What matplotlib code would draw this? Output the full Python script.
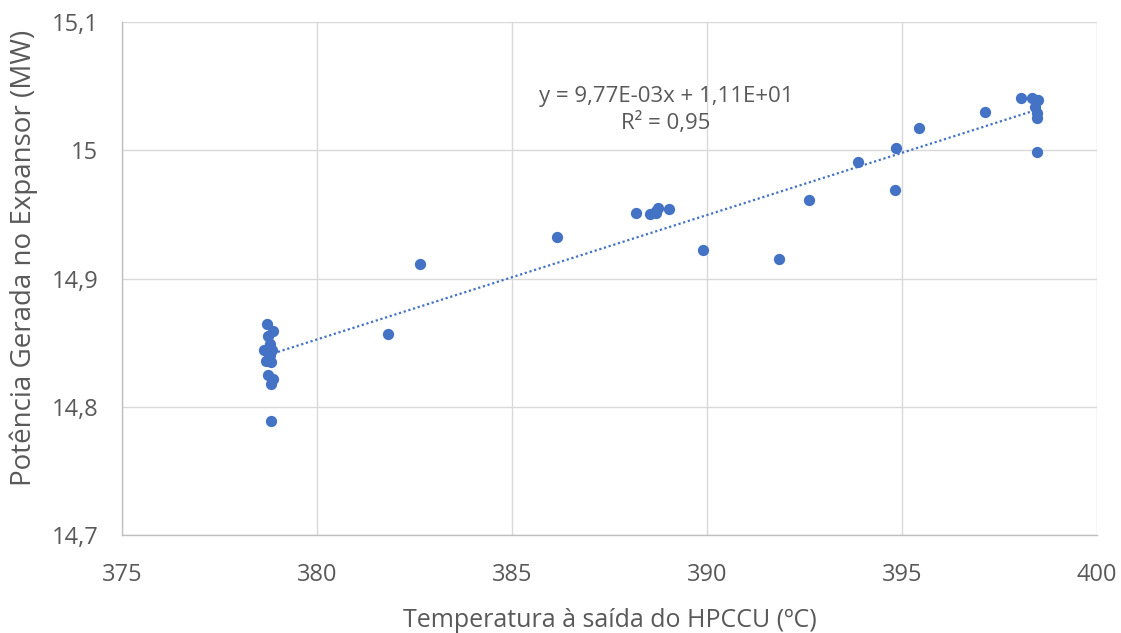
import numpy as np
import matplotlib
matplotlib.use("Agg")
import matplotlib.pyplot as plt
from matplotlib.ticker import FuncFormatter

plt.rcParams['font.family'] = ['Open Sans', 'DejaVu Sans']

# HPCCU outlet temperature (ºC) and expander power (MW)
temperatura = [378.72, 378.87, 378.74, 378.79, 378.64, 378.85, 378.69, 378.82,
               378.74, 378.87, 378.82, 378.82, 378.78, 378.80,
               381.82, 382.64, 386.15, 388.18, 388.55, 388.68, 388.74, 389.02,
               388.70, 389.90, 391.85, 392.62, 393.87, 394.82, 394.85, 395.44,
               397.13, 398.05, 398.33, 398.49, 398.41, 398.46, 398.46, 398.46]
potencia = [14.8645, 14.859, 14.855, 14.849, 14.844, 14.844, 14.836, 14.835,
            14.825, 14.822, 14.818, 14.789, 14.846, 14.840,
            14.857, 14.911, 14.932, 14.951, 14.950, 14.951, 14.955, 14.954,
            14.953, 14.922, 14.915, 14.961, 14.991, 14.969, 15.002, 15.017,
            15.030, 15.041, 15.041, 15.039, 15.034, 15.029, 15.025, 14.999]

x_ticks = [375, 380, 385, 390, 395, 400]
y_ticks = [14.7, 14.8, 14.9, 15.0, 15.1]

texto = '#595959'
grade = '#D9D9D9'
azul = '#4472C4'

fig = plt.figure(figsize=(11.21, 6.33), dpi=100)
ax = fig.add_axes([0.1088, 0.1548, 0.8698, 0.8104])

x = np.array(temperatura)
y = np.array(potencia)
ax.scatter(x, y, s=66, color=azul, zorder=3, linewidths=0)

# Linear trendline
a, b = np.polyfit(x, y, 1)
xl = np.array([x.min(), x.max()])
ax.plot(xl, a * xl + b, linestyle=(0, (1, 1.2)), color=azul, linewidth=1.6, zorder=2)

ax.text(388.95, 15.0314, 'y = 9,77E-03x + 1,11E+01\nR² = 0,95', ha='center', va='center',
        fontsize=16, color=texto, linespacing=1.3, zorder=4)

ax.set_xlim(375, 400)
ax.set_ylim(14.7, 15.1)
ax.set_xticks(x_ticks)
ax.set_yticks(y_ticks)

def fmt_y(v, pos):
    s = f'{v:.1f}'.rstrip('0').rstrip('.')
    return s.replace('.', ',')

ax.yaxis.set_major_formatter(FuncFormatter(fmt_y))
ax.xaxis.set_major_formatter(FuncFormatter(lambda v, p: f'{v:.0f}'))

ax.grid(True, color=grade, linewidth=1)
ax.set_axisbelow(True)
for side in ['top', 'right']:
    ax.spines[side].set_visible(False)
for side in ['left', 'bottom']:
    ax.spines[side].set_color('#BFBFBF')
    ax.spines[side].set_linewidth(1)
ax.tick_params(length=0, labelsize=17, colors=texto)
ax.tick_params(axis='x', pad=20)
ax.tick_params(axis='y', pad=17)

ax.set_xlabel('Temperatura à saída do HPCCU (ºC)', fontsize=18, color=texto, labelpad=15)
ax.set_ylabel('Potência Gerada no Expansor (MW)', fontsize=20, color=texto)
ax.yaxis.set_label_coords(-0.086, 0.54)

fig.savefig('out.png', dpi=100)
